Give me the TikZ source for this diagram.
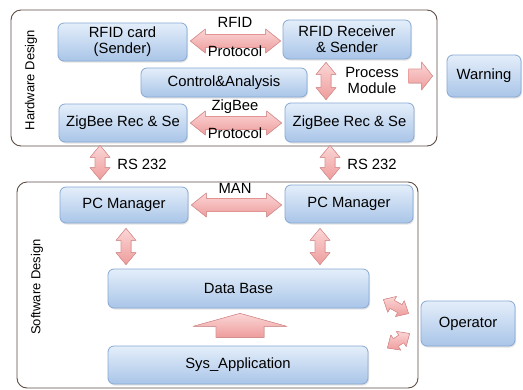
\documentclass[tikz,border=0pt]{standalone}
\usepackage{fontspec}
\setmainfont{Liberation Sans}
\usetikzlibrary{calc,shadows}
\definecolor{boxtop}{HTML}{E4EEFA}
\definecolor{boxbot}{HTML}{A9C5E8}
\definecolor{boxline}{HTML}{87A9D4}
\definecolor{arrtop}{HTML}{FBD6D6}
\definecolor{arrbot}{HTML}{EE9C9C}
\definecolor{arrline}{HTML}{E29393}
\definecolor{frameline}{HTML}{5D4D45}
\tikzset{
  box/.style={draw=boxline, rounded corners=6pt, top color=boxtop, bottom color=boxbot,
    line width=0.8pt, align=center, font=\fontsize{14.8}{16}\selectfont, inner sep=0pt,
    drop shadow={opacity=0.22, shadow xshift=1pt, shadow yshift=-1.5pt}},
  fat/.style={draw=arrline, line width=0.6pt, top color=arrtop, bottom color=arrbot, line join=round},
  lbl/.style={font=\fontsize{14.8}{16}\selectfont, inner sep=0pt, align=center},
  sidelbl/.style={font=\fontsize{13}{15}\selectfont, inner sep=0pt, rotate=90},
  frame/.style={draw=frameline, line width=0.9pt, rounded corners=10pt},
}
% double arrow: A, B, body half width, head half width, head length
\newcommand\dblarrow[5]{%
 \filldraw[fat] (#1)
 -- ($($(#1)!#5!(#2)$)!#4!90:(#2)$)
 -- ($($(#1)!#5!(#2)$)!#3!90:(#2)$)
 -- ($($(#2)!#5!(#1)$)!#3!-90:(#1)$)
 -- ($($(#2)!#5!(#1)$)!#4!-90:(#1)$)
 -- (#2)
 -- ($($(#2)!#5!(#1)$)!#4!90:(#1)$)
 -- ($($(#2)!#5!(#1)$)!#3!90:(#1)$)
 -- ($($(#1)!#5!(#2)$)!#3!-90:(#2)$)
 -- ($($(#1)!#5!(#2)$)!#4!-90:(#2)$)
 -- cycle;}
% single arrow: tail A, tip B, body half width, head half width, head length
\newcommand\sglarrow[5]{%
 \filldraw[fat] ($(#1)!#3!90:(#2)$)
 -- ($($(#2)!#5!(#1)$)!#3!-90:(#1)$)
 -- ($($(#2)!#5!(#1)$)!#4!-90:(#1)$)
 -- (#2)
 -- ($($(#2)!#5!(#1)$)!#4!90:(#1)$)
 -- ($($(#2)!#5!(#1)$)!#3!90:(#1)$)
 -- ($(#1)!#3!-90:(#2)$)
 -- cycle;}
\begin{document}
\begin{tikzpicture}[x=1pt,y=-1pt]
\useasboundingbox (0,0) rectangle (523,389);
\fill[white] (0,0) rectangle (523,389);
% frames
\draw[frame] (11,10) rectangle (437,146);
\draw[frame] (17,182) rectangle (418,388);
% boxes
\node[box, minimum width=129pt, minimum height=38pt] (rfidcard) at (122.5,42) {RFID card\\(Sender)};
\node[box, minimum width=128pt, minimum height=39pt] (rfidrx) at (347,39.5) {RFID Receiver\\\& Sender};
\node[box, minimum width=166pt, minimum height=29pt] (ctrl) at (224,82.5) {Control\&Analysis};
\node[box, minimum width=128pt, minimum height=38pt] (zl) at (123,123) {ZigBee Rec \& Se};
\node[box, minimum width=129pt, minimum height=39pt] (zr) at (349.5,122.5) {ZigBee Rec \& Se};
\node[box, minimum width=74pt, minimum height=42pt] (warn) at (484,76) {Warning};
\node[box, minimum width=128pt, minimum height=36pt] (pcl) at (124,205) {PC Manager};
\node[box, minimum width=128pt, minimum height=38pt] (pcr) at (349,204) {PC Manager};
\node[box, minimum width=261pt, minimum height=39pt] (db) at (238.5,288.5) {Data Base};
\node[box, minimum width=260pt, minimum height=38pt] (sys) at (238,365) {Sys\_Application};
\node[box, minimum width=94pt, minimum height=45pt] (op) at (468,323.5) {Operator};
% arrow end points (offsets in picture units, y grows downwards)
\coordinate (a1) at ($(rfidcard.east)+(3,-1)$);
\coordinate (a2) at ($(rfidrx.west)+(-2,1.5)$);
\coordinate (b1) at ($(zl.east)+(3,0)$);
\coordinate (b2) at ($(zr.west)+(-3,0.5)$);
\coordinate (c1) at ($(pcl.east)+(3,0)$);
\coordinate (c2) at ($(pcr.west)+(-3,1)$);
\coordinate (d1) at ($(rfidrx.south)+(-21,3)$);
\coordinate (d2) at ($(zr.north)+(-23.5,-3)$);
\coordinate (e1) at ($(warn.west)+(-38,0)$);
\coordinate (e2) at ($(warn.west)+(-14,0)$);
\coordinate (f1) at ($(zl.south)+(-23,3)$);
\coordinate (f2) at ($(pcl.north)+(-24,-7)$);
\coordinate (g1) at ($(zr.south)+(-19.5,3)$);
\coordinate (g2) at ($(pcr.north)+(-19,-5)$);
\coordinate (h1) at ($(pcl.south)+(2,5)$);
\coordinate (h2) at ($(db.north)+(-112.5,-4)$);
\coordinate (i1) at ($(pcr.south)+(-29,5)$);
\coordinate (i2) at ($(db.north)+(81.5,-4)$);
\coordinate (j1) at ($(sys.north)+(2,-8)$);
\coordinate (j2) at ($(db.south)+(1.5,5)$);
\coordinate (k1) at ($(db.east)+(14,11)$);
\coordinate (k2) at ($(op.west)+(-12,-10)$);
\coordinate (l1) at ($(sys.east)+(19,-17)$);
\coordinate (l2) at ($(op.west)+(-11,10)$);
% arrows
\dblarrow{a1}{a2}{6.5pt}{12pt}{15pt}
\dblarrow{b1}{b2}{6.5pt}{12pt}{15pt}
\dblarrow{c1}{c2}{6.5pt}{12pt}{15pt}
\dblarrow{d1}{d2}{5pt}{10pt}{12pt}
\sglarrow{e1}{e2}{7pt}{14pt}{11pt}
\dblarrow{f1}{f2}{5pt}{10pt}{12pt}
\dblarrow{g1}{g2}{5pt}{10pt}{12pt}
\dblarrow{h1}{h2}{5pt}{10pt}{12pt}
\dblarrow{i1}{i2}{5pt}{10pt}{12pt}
\sglarrow{j1}{j2}{24pt}{47pt}{13pt}
\dblarrow{k1}{k2}{4.5pt}{9pt}{10pt}
\dblarrow{l1}{l2}{4.5pt}{9pt}{10pt}
% labels
\node[lbl] (rfidlbl) at (235,22) {RFID};
\node[lbl] (proto1) at (235,51) {Protocol};
\node[lbl] (zblbl) at (235,107) {ZigBee};
\node[lbl] (proto2) at (235,133) {Protocol};
\node[lbl] (procmod) at (372,80.5) {Process\\Module};
\node[lbl] (rs1) at (142,164) {RS 232};
\node[lbl] (rs2) at (372,164) {RS 232};
\node[lbl] (man) at (235,188) {MAN};
\node[sidelbl] (hwd) at (31,80) {Hardware Design};
\node[sidelbl] (swd) at (37,287) {Software Design};
\end{tikzpicture}
\end{document}
